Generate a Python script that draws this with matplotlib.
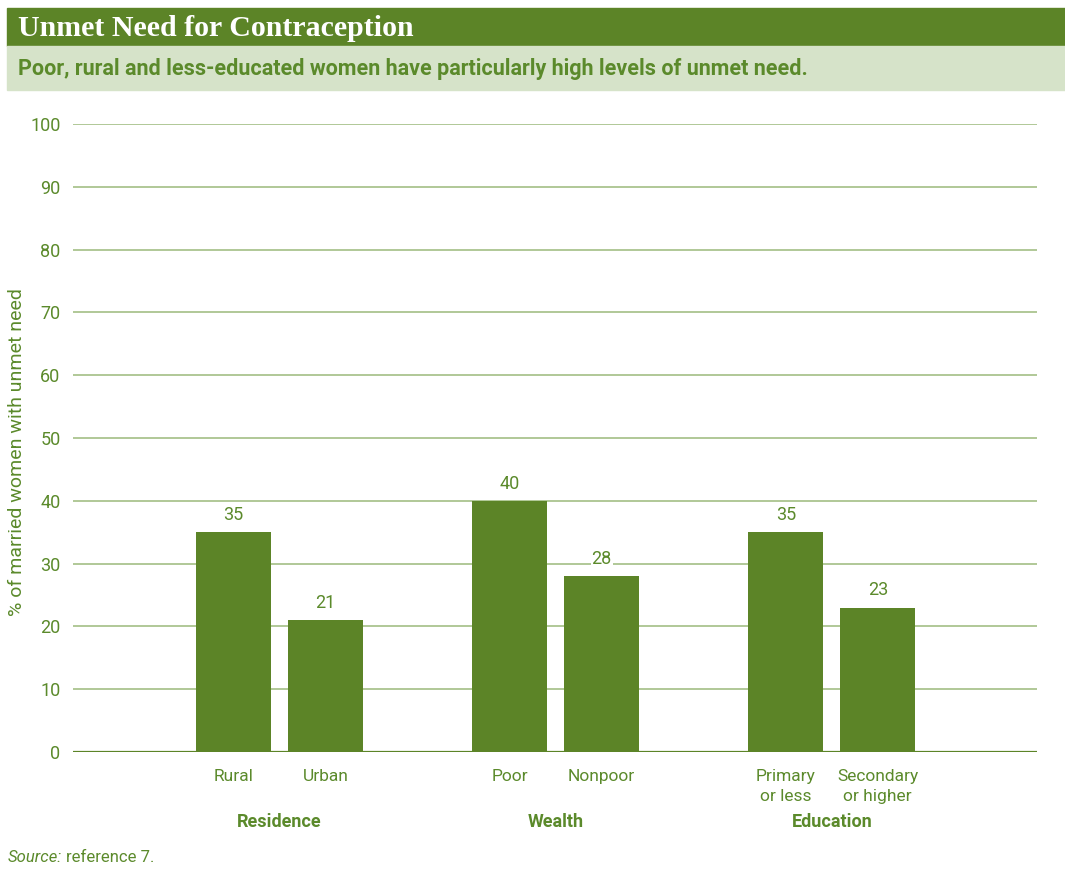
import matplotlib.pyplot as plt
from matplotlib.patches import Rectangle

# dados
categorias = ['Rural', 'Urban', 'Poor', 'Nonpoor', 'Primary\nor less', 'Secondary\nor higher']
valores = [35, 21, 40, 28, 35, 23]
grupos = ['Residence', 'Wealth', 'Education']
posicoes = [0, 1, 3, 4, 6, 7]
yticks = [0, 10, 20, 30, 40, 50, 60, 70, 80, 90, 100]

verde = '#5c8427'
verde_txt = '#5b8a2b'
verde_grade = '#a3bf85'
verde_claro = '#d6e3c9'

plt.rcParams['font.family'] = ['Roboto', 'DejaVu Sans']

fig = plt.figure(figsize=(10.65, 8.73), dpi=100)

# cabeçalho
fig.patches.append(Rectangle((7/1065, 1-46/873), 1-7/1065, 38/873, transform=fig.transFigure,
                             color=verde, zorder=0))
fig.patches.append(Rectangle((7/1065, 1-90/873), 1-7/1065, 44/873, transform=fig.transFigure,
                             color=verde_claro, zorder=0))
fig.text(18/1065, 1-28/873, 'Unmet Need for Contraception', color='white', fontsize=21.5,
         fontweight='bold', family=['Liberation Serif', 'DejaVu Serif'], va='center')
fig.text(18/1065, 1-69/873, 'Poor, rural and less-educated women have particularly high levels of unmet need.',
         color=verde_txt, fontsize=15.5, fontweight='bold', va='center')

ax = fig.add_axes([73/1065, 1-752/873, (1037-73)/1065, (752-124)/873])
ax.bar(posicoes, valores, width=0.815, color=verde, zorder=3)
ax.set_ylim(0, 100)
ax.set_xlim(-1.745, 8.73)
ax.set_yticks(yticks)
ax.yaxis.grid(True, color=verde_grade, linewidth=1.2, zorder=0)
ax.axhline(0, color=verde, linewidth=1.6, zorder=4)
for s in ax.spines.values():
    s.set_visible(False)
ax.tick_params(axis='y', length=0, pad=9, labelsize=13, labelcolor=verde_txt)
ax.set_xticks(posicoes)
ax.set_xticklabels(categorias, fontsize=12.5, color=verde_txt, linespacing=1.45)
ax.tick_params(axis='x', length=0, pad=12)
ax.set_ylabel('% of married women with unmet need', fontsize=14, color=verde_txt)
ax.yaxis.set_label_coords(-47/964, 0.478)

for p, v in zip(posicoes, valores):
    ax.text(p, v + 1.3, str(v), ha='center', va='bottom', fontsize=13, color=verde_txt, zorder=5,
            bbox=dict(facecolor='white', edgecolor='none', pad=0.5) if v == 28 else None)

for i, g in enumerate(grupos):
    ax.text(posicoes[2*i] + 0.5, -11.1, g, ha='center', va='center', fontsize=13,
            fontweight='bold', color=verde_txt)

src = fig.text(8/1065, 1-857/873, 'Source:', fontsize=12, style='italic', color=verde_txt, va='center')
fig.canvas.draw()
ax.annotate('reference 7.', xy=(1, 0.5), xycoords=src, xytext=(3, 0), textcoords='offset points',
            fontsize=12, color=verde_txt, va='center', annotation_clip=False)

plt.savefig('out.png', dpi=100)
